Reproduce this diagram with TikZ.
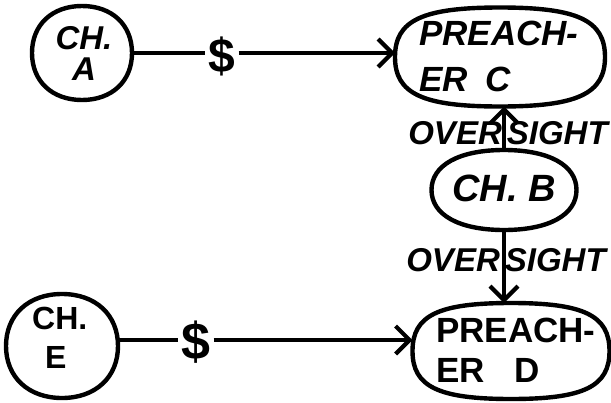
\documentclass[tikz,border=0pt]{standalone}
\usepackage{fontspec}
\setmainfont{Liberation Sans}
\usetikzlibrary{arrows.meta,calc}
\newcommand\myoval[2]{%
 \draw[shapeline] (#1.east) .. controls ($(#1.east)!#2!(#1.south east)$) and ($(#1.south)!#2!(#1.south east)$) .. (#1.south)
  .. controls ($(#1.south)!#2!(#1.south west)$) and ($(#1.west)!#2!(#1.south west)$) .. (#1.west)
  .. controls ($(#1.west)!#2!(#1.north west)$) and ($(#1.north)!#2!(#1.north west)$) .. (#1.north)
  .. controls ($(#1.north)!#2!(#1.north east)$) and ($(#1.east)!#2!(#1.north east)$) .. (#1.east) -- cycle;}
\begin{document}
\begin{tikzpicture}[x=1pt,y=-1pt,
  holder/.style={rectangle,inner sep=0pt,outer sep=0pt},
  shapeline/.style={line width=4.4pt,line join=round},
  lbl/.style={font=\bfseries\itshape\fontsize{35}{46}\selectfont,inner sep=0pt},
  lblup/.style={font=\bfseries\fontsize{35}{40}\selectfont,inner sep=0pt},
  money/.style={font=\bfseries\fontsize{48}{52}\selectfont,inner sep=3pt},
  over/.style={font=\bfseries\itshape\fontsize{33}{36}\selectfont,inner sep=0pt},
  conn/.style={line width=4.8pt},
  arr/.style={conn,-{Straight Barb[length=14pt,width=28pt,line width=4.2pt]}}
]
\useasboundingbox (0,0) rectangle (611,402);
% shapes
\node[holder,minimum width=100pt,minimum height=94pt] (chA) at (82,53) {};
\node[holder,minimum width=210pt,minimum height=99pt] (pC) at (500,57) {};
\node[holder,minimum width=145pt,minimum height=80pt] (chB) at (504,190) {};
\node[holder,minimum width=112pt,minimum height=104pt] (chE) at (62,346) {};
\node[holder,minimum width=197pt,minimum height=96pt] (pD) at (511,351) {};
\myoval{chA}{0.6}
\myoval{pC}{0.74}
\myoval{chB}{0.62}
\myoval{chE}{0.6}
\myoval{pD}{0.74}
% texts
\node[lbl,font=\bfseries\itshape\fontsize{33}{31}\selectfont,align=center] (tA) at ([xshift=2pt]chA.center) {CH.\\A};
\node[lbl,align=left,anchor=north west] (tC) at (419,21) {PREACH-\\ER\hspace{18pt}C};
\node[lbl,font=\bfseries\itshape\fontsize{38}{40}\selectfont] (tB) at ([yshift=2pt]chB.center) {CH. B};
\node[lblup,font=\bfseries\fontsize{32}{39}\selectfont,align=left,anchor=north west] (tE) at (32,307) {CH.\\\hspace{13pt}E};
\node[lblup,align=left,anchor=north west] (tD) at (436,318) {PREACH-\\ER\hspace{30pt}D};
% money labels
\node[money] (dA) at (222,56) {\$};
\node[money,font=\bfseries\fontsize{52}{56}\selectfont] (dE) at (196,342) {\$};
% connectors
\draw[conn] (chA.east) -- (chA.east -| dA.west);
\draw[arr] (dA.east |- chA.east) -- (chA.east -| pC.west);
\draw[conn] ([yshift=6pt]chE.east) -- ([yshift=6pt]chE.east -| dE.west);
\draw[arr] ([yshift=6pt]chE.east -| dE.east) -- ([yshift=6pt]chE.east -| pD.west);
\draw[arr] (chB.north) -- (chB.north |- pC.south);
\draw[arr] (chB.south) -- (chB.south |- pD.north);
% oversight labels
\node[over] (o1) at (508,133) {OVER\hspace{5pt}SIGHT};
\node[over] (o2) at (506,260) {OVER\hspace{5pt}SIGHT};
\end{tikzpicture}
\end{document}
